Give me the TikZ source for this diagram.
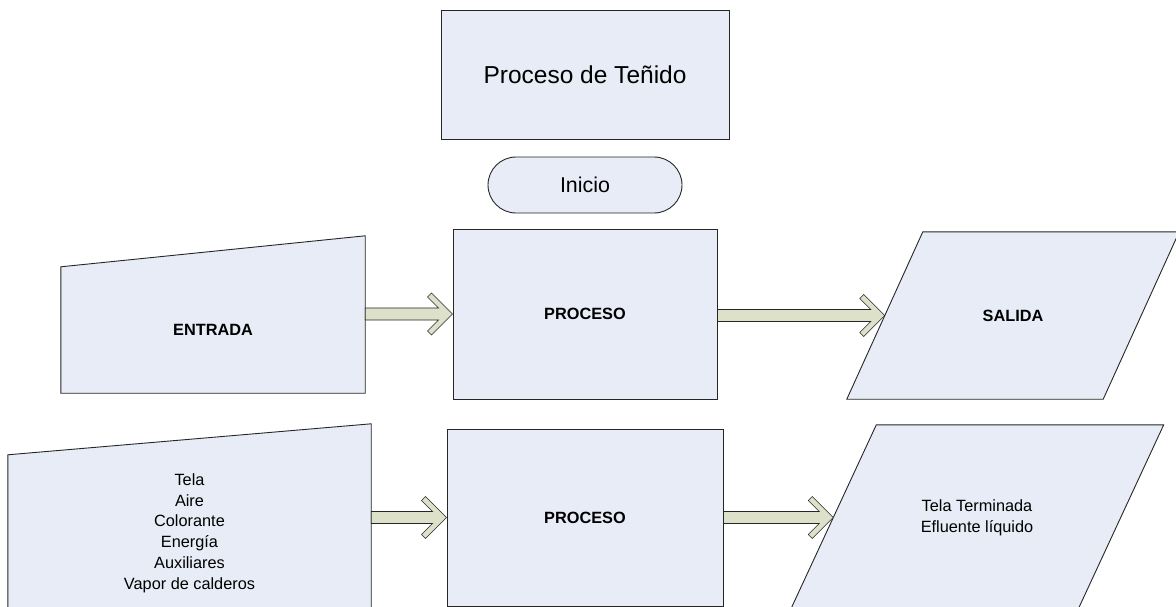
\documentclass[tikz,border=0pt]{standalone}
\usepackage{fontspec}
\setmainfont{Liberation Sans}
\usetikzlibrary{backgrounds,calc}
\definecolor{relleno}{RGB}{231,236,246}
\definecolor{khaki}{RGB}{221,225,201}
\definecolor{borde}{RGB}{38,38,38}
\tikzstyle{block} = [draw=borde, fill=relleno, rectangle, line width=0.9pt, inner sep=0pt]
\tikzstyle{term} = [block, rounded corners=28pt]
\tikzstyle{manual} = [rectangle, inner sep=0pt, align=center]
\tikzstyle{datos} = [rectangle, inner sep=0pt, align=center]
\tikzstyle{forma} = [draw=borde, fill=relleno, line width=0.9pt]
\tikzstyle{flecha} = [draw=borde, fill=khaki, line width=0.6pt]
\tikzstyle{txt} = [font=\fontsize{16.3}{20.8}\selectfont]
\tikzstyle{txtb} = [font=\fontsize{16.3}{20.8}\selectfont\bfseries]
% flecha gruesa de #1 a #2
\newcommand{\flechagorda}[2]{%
  \coordinate (fs) at (#1.east |- #2.west);
  \coordinate (ft) at (#2.west);
  \filldraw [flecha] ($(fs)+(0,-6)$) -- ($(ft)+(-14,-6)$) -- ($(ft)+(-25,-17)$)
    -- ($(ft)+(-21,-21)$) -- (ft) -- ($(ft)+(-21,21)$) -- ($(ft)+(-25,17)$)
    -- ($(ft)+(-14,6)$) -- ($(fs)+(0,6)$) -- cycle;}

\begin{document}
\begin{tikzpicture}[x=1pt, y=-1pt, node distance=100pt]
\useasboundingbox (0,0) rectangle (1176,607);

\node [block, minimum width=288pt, minimum height=129pt, font=\fontsize{24.5}{29}\selectfont] (titulo) at (585,74.5) {Proceso de Teñido};
\node [term, below of=titulo, node distance=110.5pt, minimum width=194pt, minimum height=56pt, font=\fontsize{21.4}{25}\selectfont] (inicio) {Inicio};

\node [block, txtb, below of=inicio, node distance=129pt, minimum width=264pt, minimum height=170pt] (proceso) {PROCESO};
\node [manual, txtb, left of=proceso, node distance=372pt, yshift=-16pt, minimum width=304pt, minimum height=126pt] (entrada) {ENTRADA};
\node [datos, txtb, right of=proceso, node distance=428pt, yshift=-1.5pt, minimum width=256pt, minimum height=167pt] (salida) {SALIDA};

\node [block, txtb, below of=proceso, node distance=203.5pt, minimum width=276pt, minimum height=177pt] (procesob) {PROCESO};
\node [manual, txt, left of=procesob, node distance=395.5pt, yshift=-15.5pt, minimum width=363pt, minimum height=156pt] (entradab) {Tela\\Aire\\Colorante\\Energía\\Auxiliares\\Vapor de calderos};
\node [datos, txt, right of=procesob, node distance=392pt, minimum width=287pt, minimum height=185pt] (salidab) {Tela Terminada\\Efluente líquido};

% entradas manuales y datos
\begin{scope}[on background layer]
\draw [forma] (entrada.south west) -- (entrada.north west) -- ([yshift=31pt]entrada.north east) -- (entrada.south east) -- cycle;
\draw [forma] (entradab.south west) -- (entradab.north west) -- ([yshift=31pt]entradab.north east) -- (entradab.south east) -- cycle;
\draw [forma] ([xshift=-38pt]salida.south west) -- ([xshift=38pt]salida.north west) -- ([xshift=38pt]salida.north east) -- ([xshift=-38pt]salida.south east) -- cycle;
\draw [forma] ([xshift=-43pt]salidab.south west) -- ([xshift=43pt]salidab.north west) -- ([xshift=43pt]salidab.north east) -- ([xshift=-43pt]salidab.south east) -- cycle;
\end{scope}

\flechagorda{entrada}{proceso}
\flechagorda{proceso}{salida}
\flechagorda{entradab}{procesob}
\flechagorda{procesob}{salidab}

\end{tikzpicture}
\end{document}
